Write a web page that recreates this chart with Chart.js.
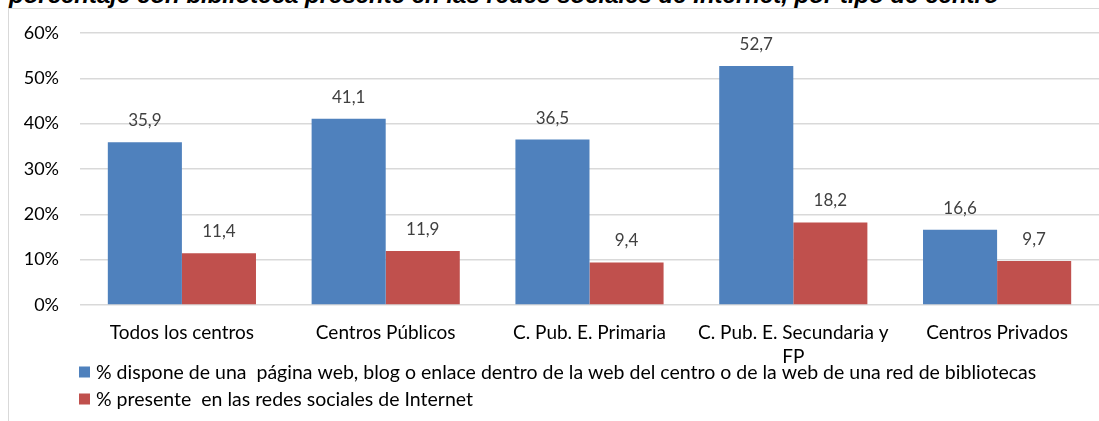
<!DOCTYPE html>
<html>
<head>
<meta charset="utf-8">
<script src="https://cdn.jsdelivr.net/npm/chart.js@4/dist/chart.umd.min.js"></script>
<style>
  html, body { margin: 0; padding: 0; background: #fff; overflow: hidden; }
  body { width: 1099px; height: 421px; position: relative; }
  #title {
    position: absolute; left: 9px; top: -17px; white-space: nowrap;
    font: italic bold 24px/24px "Liberation Sans", Arial, sans-serif; color: #000;
  }
  #frame {
    position: absolute; left: 8px; top: 8px; width: 1100px; height: 430px;
    border-left: 1px solid #d9d9d9; border-top: 1px solid #d9d9d9;
  }
  #chart { position: absolute; left: 9px; top: 9px; }
</style>
</head>
<body>
<div id="title">porcentaje con biblioteca presente en las redes sociales de Internet, por tipo de centro</div>
<div id="frame"></div>
<canvas id="chart" width="1090" height="412"></canvas>
<script>
// categories (second line of a label goes in its own entry)
const categories = [
  'Todos los centros',
  'Centros Públicos',
  'C. Pub. E. Primaria',
  ['C. Pub. E. Secundaria y', 'FP'],
  'Centros Privados'
];
const webValues = [35.9, 41.1, 36.5, 52.7, 16.6];
const socialValues = [11.4, 11.9, 9.4, 18.2, 9.7];
const seriesNames = [
  '% dispone de una  página web, blog o enlace dentro de la web del centro o de la web de una red de bibliotecas',
  '% presente  en las redes sociales de Internet'
];
const yTicks = [0, 10, 20, 30, 40, 50, 60];

const FONT = 'Lato, "Open Sans", sans-serif';

// value labels above each bar, decimal comma like the original
const barLabels = {
  id: 'barLabels',
  afterDatasetsDraw(chart) {
    const ctx = chart.ctx;
    ctx.save();
    ctx.font = '17px ' + FONT;
    ctx.fillStyle = '#404040';
    ctx.textAlign = 'center';
    ctx.textBaseline = 'alphabetic';
    chart.data.datasets.forEach((ds, i) => {
      chart.getDatasetMeta(i).data.forEach((bar, j) => {
        const txt = ds.data[j].toFixed(1).replace('.', ',');
        ctx.fillText(txt, bar.x, bar.y - 16);
      });
    });
    ctx.restore();
  }
};

// legend drawn by hand: one left-aligned row per series, under the axis labels
const rowLegend = {
  id: 'rowLegend',
  afterDraw(chart) {
    const ctx = chart.ctx;
    ctx.save();
    ctx.font = '19.5px ' + FONT;
    ctx.textBaseline = 'middle';
    ctx.textAlign = 'left';
    chart.data.datasets.forEach((ds, i) => {
      const y = 363 + i * 27;
      ctx.fillStyle = ds.backgroundColor;
      ctx.fillRect(70, y - 5.5, 11, 11);
      ctx.fillStyle = '#000';
      ctx.fillText(ds.label, 87, y + 1);
    });
    ctx.restore();
  }
};

new Chart(document.getElementById('chart'), {
  type: 'bar',
  data: {
    labels: categories,
    datasets: [
      { label: seriesNames[0], data: webValues, backgroundColor: '#4F81BD', borderWidth: 0 },
      { label: seriesNames[1], data: socialValues, backgroundColor: '#C0504D', borderWidth: 0 }
    ]
  },
  options: {
    responsive: false,
    animation: false,
    layout: { padding: { left: 0, top: 24, right: 0, bottom: 36 } },
    datasets: { bar: { categoryPercentage: 0.727, barPercentage: 1 } },
    scales: {
      x: {
        grid: { display: false, drawTicks: false },
        border: { display: false },
        ticks: {
          color: '#000',
          font: { family: FONT, size: 19, lineHeight: '24px' },
          padding: 16,
          maxRotation: 0,
          autoSkip: false
        }
      },
      y: {
        min: yTicks[0],
        max: yTicks[yTicks.length - 1],
        afterFit: (scale) => { scale.width = 71; },
        grid: { color: '#d9d9d9', lineWidth: 1.5, drawTicks: false },
        border: { display: false },
        ticks: {
          stepSize: yTicks[1] - yTicks[0],
          color: '#000',
          // small lineHeight keeps the top/bottom labels from eating plot height
          font: { family: FONT, size: 18, lineHeight: 0.2 },
          padding: 21,
          callback: (v) => v + '%'
        }
      }
    },
    plugins: {
      legend: { display: false },
      tooltip: { enabled: false }
    }
  },
  plugins: [barLabels, rowLegend]
});
</script>
</body>
</html>
